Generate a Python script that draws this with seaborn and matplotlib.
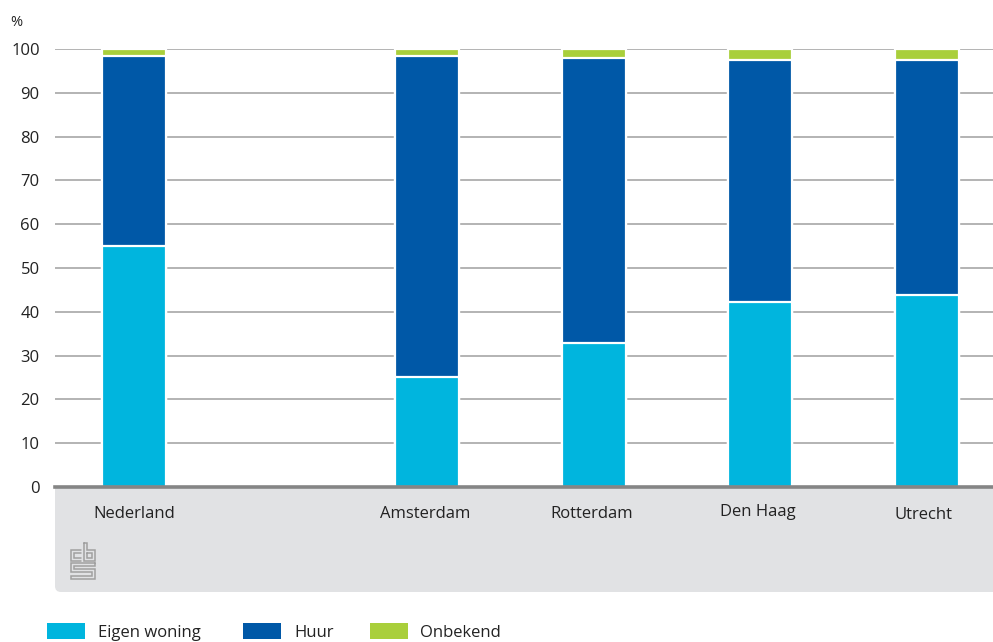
import matplotlib
matplotlib.use("Agg")
import matplotlib.pyplot as plt
from matplotlib.patches import Rectangle, FancyBboxPatch
import seaborn as sns
import pandas as pd

# Woningbezit per regio (%)
regions = ["Nederland", "Amsterdam", "Rotterdam", "Den Haag", "Utrecht"]
eigen_woning = [55.0, 25.1, 32.9, 42.2, 43.8]
huur = [43.5, 73.3, 65.0, 55.3, 53.7]
onbekend = [1.5, 1.6, 2.1, 2.5, 2.5]

series_names = ["Eigen woning", "Huur", "Onbekend"]
colors = {"Eigen woning": "#00b5de", "Huur": "#0058a7", "Onbekend": "#a9cf3b"}

# horizontal placement of the bars (gap after Nederland)
xpos = [0.0, 1.76, 2.76, 3.76, 4.76]

df = pd.DataFrame({"regio": regions, "x": xpos,
                   "Eigen woning": eigen_woning, "Huur": huur, "Onbekend": onbekend})
df["c1"] = df["Eigen woning"]
df["c2"] = df["c1"] + df["Huur"]
df["c3"] = df["c2"] + df["Onbekend"]

sns.set_theme(style="white")
plt.rcParams["font.family"] = ["Open Sans", "DejaVu Sans"]
FS = 12

W, H = 993, 642
fig = plt.figure(figsize=(W / 100, H / 100), dpi=100)

# main axes in pixel geometry
ax_l, ax_r, ax_t, ax_b = 55, 993, 49, 487
ax = fig.add_axes([ax_l / W, 1 - ax_b / H, (ax_r - ax_l) / W, (ax_b - ax_t) / H])

unit = 166.5
xlim = (-(134 - ax_l) / unit, (ax_r - 134) / unit)
bw = 64 / unit

# stacked bars drawn as cumulative layers, top layer first
for col, name in [("c3", "Onbekend"), ("c2", "Huur"), ("c1", "Eigen woning")]:
    sns.barplot(data=df, x="x", y=col, native_scale=True, width=bw,
                color=colors[name], saturation=1, edgecolor="white",
                linewidth=1.6, ax=ax, zorder=3)

ax.set_xlim(*xlim)
ax.set_ylim(0, 100)
ax.set_yticks(range(0, 101, 10))
ax.set_yticklabels([str(v) for v in range(0, 101, 10)], fontsize=FS, color="#222222")
ax.yaxis.grid(True, color="#b3b3b3", linewidth=1.4, zorder=0)
ax.set_axisbelow(True)
ax.set_xticks([])
ax.set_xlabel("")
ax.set_ylabel("")
for s in ["top", "right", "left"]:
    ax.spines[s].set_visible(False)
ax.spines["bottom"].set_color("#858585")
ax.spines["bottom"].set_linewidth(2.6)
ax.spines["bottom"].set_zorder(5)
ax.tick_params(axis="y", length=0, pad=11)
for lab in ax.get_yticklabels():
    lab.set_horizontalalignment("right")

# overlay in pixel coordinates for panel, labels, logo and legend
ov = fig.add_axes([0, 0, 1, 1], zorder=-1)
ov.set_xlim(0, W)
ov.set_ylim(H, 0)
ov.axis("off")

panel = FancyBboxPatch((ax_l + 6, 489), ax_r - ax_l + 20, 592 - 489 - 6,
                       boxstyle="round,pad=6,rounding_size=6",
                       facecolor="#e1e2e4", edgecolor="none")
ov.add_patch(panel)

ov.text(10, 22, "%", fontsize=10.5, color="#222222", va="center", ha="left")

label_x = [134, 425, 592, 758, 923]
label_y = [514, 514, 514, 512, 515]
for name, lx, ly in zip(regions, label_x, label_y):
    ov.text(lx, ly, name, fontsize=FS, color="#222222", ha="center", va="center")

# logo
lc = "#a0a0a0"
lw = 1.1
logo = [
    [(81, 550), (71, 550), (71, 561), (81, 561)],
    [(81, 553), (74, 553), (74, 558), (81, 558)],
    [(84, 543), (84, 561), (95, 561), (95, 550), (87, 550), (87, 543), (84, 543)],
    [(87, 553), (92, 553), (92, 558), (87, 558), (87, 553)],
    [(95, 563), (71, 563), (71, 572), (92, 572), (92, 576), (71, 576), (71, 579),
     (95, 579), (95, 569), (74, 569), (74, 566), (95, 566), (95, 563)],
]
for pts in logo:
    xs, ys = zip(*pts)
    ov.plot(xs, ys, color=lc, linewidth=lw, solid_joinstyle="miter")

# legend
leg_items = [("Eigen woning", 47, 98), ("Huur", 243, 294), ("Onbekend", 370, 420)]
for name, rx, tx in leg_items:
    ov.add_patch(Rectangle((rx, 623), 38, 16, facecolor=colors[name], edgecolor="none"))
    ov.text(tx, 633, name, fontsize=FS, color="#222222", ha="left", va="center")

fig.savefig("out.png", dpi=100)
